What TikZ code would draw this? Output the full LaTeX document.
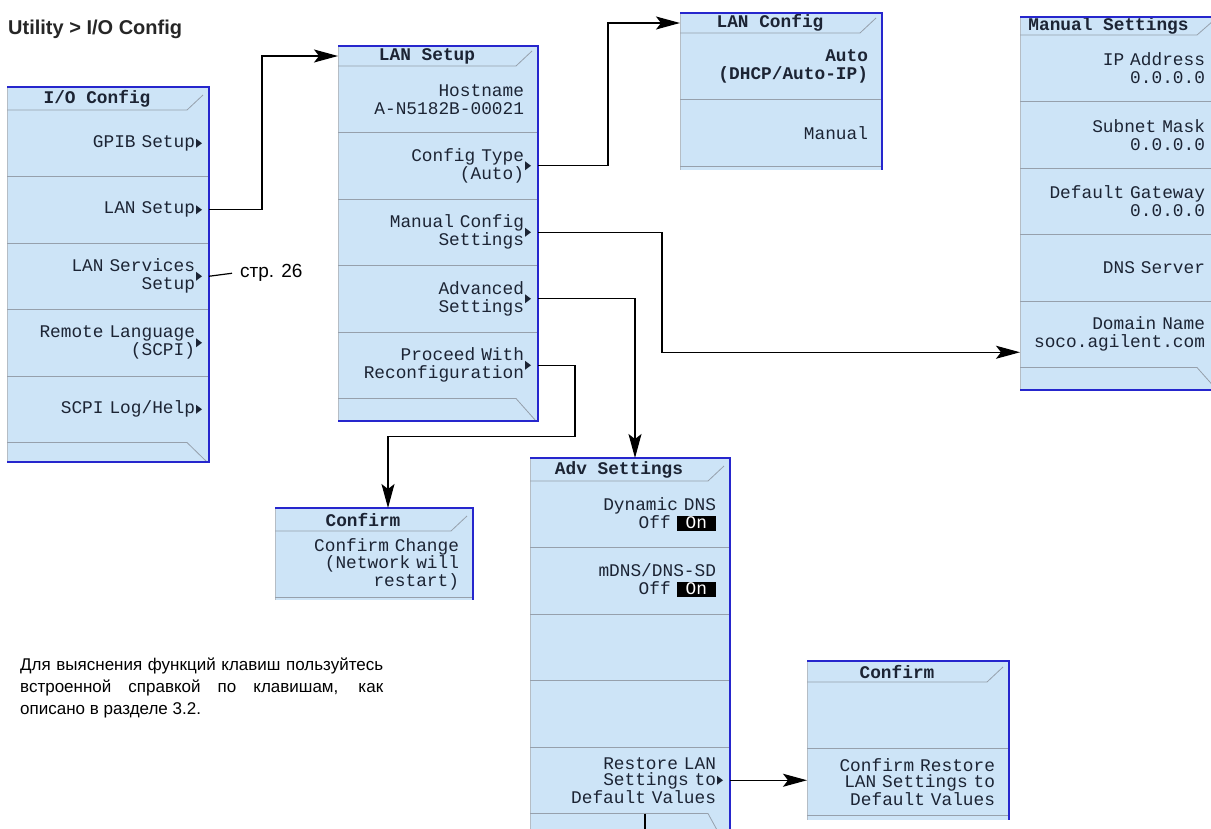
\documentclass[tikz,border=0pt]{standalone}
\usepackage{fontspec}
\setmainfont{Liberation Sans}
\newfontfamily\keyfont{Liberation Mono}
\usetikzlibrary{positioning,arrows.meta}

\definecolor{keyfill}{RGB}{205,228,247}
\definecolor{keyrim}{RGB}{38,38,205}
\definecolor{keysep}{RGB}{150,160,172}
\definecolor{keytext}{RGB}{28,36,52}

\newcommand{\kf}{\keyfont\fontsize{17.8pt}{18pt}\selectfont}
\newcommand{\kft}{\keyfont\fontsize{17.8pt}{15.5pt}\selectfont}
\newcommand{\kfm}{\keyfont\fontsize{17.8pt}{16.5pt}\selectfont}
\newcommand{\onkey}{{\setlength{\fboxsep}{1pt}\colorbox{black}{\rule[-1.5pt]{0pt}{13pt}\textcolor{white}{\hspace{8pt}On\hspace{8pt}}}}}

\tikzset{
  rim/.style={draw=keyrim, line width=2.5pt},
  rowline/.style={draw=keysep, line width=0.8pt},
  edgeline/.style={draw=keysep!70, line width=0.8pt},
  keytitle/.style 2 args={anchor=north west, inner sep=0pt, outer sep=0pt, minimum width=#1, minimum height=#2, font=\kf\bfseries, text=keytext},
  softkey/.style={rectangle, text width=#1, inner xsep=14pt, inner ysep=0pt, outer sep=0pt, minimum height=66.5pt, align=right, font=\kf, text=keytext},
  sub/.style={path picture={\fill[keytext] ([xshift=-13pt,yshift=4.5pt]path picture bounding box.east) -- ++(6pt,-4.5pt) -- ++(-6pt,-4.5pt) -- cycle;}},
  conn/.style={draw=black, line width=1.2pt, -{Stealth[length=24pt, width=13pt, inset=5pt]}},
  wire/.style={draw=black, line width=1.2pt},
}

\begin{document}
\begin{tikzpicture}[x=1pt, y=-1pt]
\useasboundingbox (0,0) rectangle (1211,828);

\node[anchor=base west, inner sep=0pt, font=\fontsize{20pt}{24pt}\selectfont\bfseries, text=black!85] (head) at (8,34) {Utility > I/O Config};

% I/O Config
\fill[keyfill] (7,87) rectangle (209,462);
\draw[edgeline] (7,87) -- (7,462);
\node[keytitle={180pt}{23pt}] (ioT) at (7,87) {I/O Config};
\node[softkey=174pt, sub, anchor=north west] (ioGpib) at (ioT.south west) {GPIB Setup};
\node[softkey=174pt, sub, below=0pt of ioGpib] (ioLan) {LAN Setup};
\node[softkey=174pt, sub, below=0pt of ioLan] (ioSvc) {LAN Services\\Setup};
\node[softkey=174pt, sub, below=0pt of ioSvc] (ioLang) {Remote Language\\(SCPI)};
\node[softkey=174pt, sub, below=0pt of ioLang] (ioLog) {SCPI Log/Help};
\foreach \k in {ioGpib,ioLan,ioSvc,ioLang} \draw[rowline] (\k.south west) -- (\k.south east);
\draw[rowline] (ioT.south west) -- (ioT.south east) -- ++(16,-15);
\draw[rowline] (ioLog.south west) -- ([xshift=-22pt]ioLog.south east) -- (207,462);
\draw[rim] (7,87) -- (209,87) -- (209,462) -- (7,462);

% LAN Setup
\fill[keyfill] (338,46) rectangle (538,421);
\draw[edgeline] (338,46) -- (338,421);
\node[keytitle={178pt}{20pt}] (lanT) at (338,46) {LAN Setup};
\node[softkey=172pt, anchor=north west] (lanHost) at (lanT.south west) {Hostname\\A-N5182B-00021};
\node[softkey=172pt, sub, below=0pt of lanHost] (lanCfg) {Config Type\\(Auto)};
\node[softkey=172pt, sub, below=0pt of lanCfg] (lanMan) {Manual Config\\Settings};
\node[softkey=172pt, sub, below=0pt of lanMan] (lanAdv) {Advanced\\Settings};
\node[softkey=172pt, sub, below=0pt of lanAdv] (lanGo) {Proceed With\\Reconfiguration};
\foreach \k in {lanHost,lanCfg,lanMan,lanAdv} \draw[rowline] (\k.south west) -- (\k.south east);
\draw[rowline] (lanT.south west) -- (lanT.south east) -- ++(16,-15);
\draw[rowline] (lanGo.south west) -- ([xshift=-22pt]lanGo.south east) -- (536,421);
\draw[rim] (338,46) -- (538,46) -- (538,421) -- (338,421);

% LAN Config
\fill[keyfill] (680,13) rectangle (882,170);
\draw[edgeline] (680,13) -- (680,170);
\node[keytitle={180pt}{20pt}] (cfgT) at (680,13) {LAN Config};
\node[softkey=174pt, anchor=north west] (cfgAuto) at (cfgT.south west) {\textbf{Auto}\\\textbf{(DHCP/Auto-IP)}};
\node[softkey=174pt, below=0pt of cfgAuto] (cfgMan) {Manual};
\foreach \k in {cfgAuto,cfgMan} \draw[rowline] (\k.south west) -- (\k.south east);
\draw[rowline] (cfgT.south west) -- (cfgT.south east) -- ++(16,-15);
\draw[rim] (680,13) -- (882,13) -- (882,170);

% Manual Settings
\fill[keyfill] (1020,17) rectangle (1219,390);
\draw[edgeline] (1020,17) -- (1020,390);
\node[keytitle={177pt}{18pt}] (manT) at (1020,17) {Manual Settings};
\node[softkey=171pt, anchor=north west] (manIp) at (manT.south west) {IP Address\\0.0.0.0};
\node[softkey=171pt, below=0pt of manIp] (manMask) {Subnet Mask\\0.0.0.0};
\node[softkey=171pt, below=0pt of manMask] (manGw) {Default Gateway\\0.0.0.0};
\node[softkey=171pt, below=0pt of manGw] (manDns) {DNS Server};
\node[softkey=171pt, below=0pt of manDns] (manDom) {Domain Name\\soco.agilent.com};
\foreach \k in {manIp,manMask,manGw,manDns} \draw[rowline] (\k.south west) -- (\k.south east);
\draw[rowline] (manT.south west) -- (manT.south east) -- ++(16,-14);
\draw[rowline] (manDom.south west) -- ([xshift=-22pt]manDom.south east) -- (1217,390);
\draw[rim] (1020,17) -- (1219,17) -- (1219,390) -- (1020,390);

% Confirm (network)
\fill[keyfill] (275,508) rectangle (473,600);
\draw[edgeline] (275,508) -- (275,600);
\node[keytitle={176pt}{23pt}] (cf1T) at (275,508) {Confirm};
\node[softkey=170pt, font=\kft, anchor=north west] (cf1Msg) at (cf1T.south west) {Confirm Change\\(Network will\\restart)};
\draw[rowline] (cf1Msg.south west) -- (cf1Msg.south east);
\draw[rowline] (cf1T.south west) -- (cf1T.south east) -- ++(16,-15);
\draw[rim] (275,508) -- (473,508) -- (473,600);

% Adv Settings
\fill[keyfill] (530,458) rectangle (730,850);
\draw[edgeline] (530,458) -- (530,850);
\node[keytitle={178pt}{23pt}] (advT) at (530,458) {Adv Settings};
\node[softkey=172pt, anchor=north west] (advDyn) at (advT.south west) {Dynamic DNS\\Off \onkey};
\node[softkey=172pt, below=0pt of advDyn] (advMdns) {mDNS/DNS-SD\\Off \onkey};
\node[softkey=172pt, below=0pt of advMdns] (advE1) {};
\node[softkey=172pt, below=0pt of advE1] (advE2) {};
\node[softkey=172pt, font=\kfm, sub, below=0pt of advE2] (advRst) {Restore LAN\\Settings to\\Default Values};
\foreach \k in {advDyn,advMdns,advE1,advE2} \draw[rowline] (\k.south west) -- (\k.south east);
\draw[rowline] (advT.south west) -- (advT.south east) -- ++(16,-15);
\draw[rowline] (advRst.south west) -- ([xshift=-22pt]advRst.south east) -- (728,850);
\draw[rim] (530,458) -- (730,458) -- (730,850);
\coordinate (advOut) at (645,840);

% Confirm (restore)
\fill[keyfill] (807,661) rectangle (1009,820);
\draw[edgeline] (807,661) -- (807,820);
\node[keytitle={180pt}{21pt}] (cf2T) at (807,661) {Confirm};
\node[softkey=174pt, anchor=north west] (cf2E) at (cf2T.south west) {};
\node[softkey=174pt, font=\kfm, below=0pt of cf2E] (cf2Msg) {Confirm Restore\\LAN Settings to\\Default Values};
\foreach \k in {cf2E,cf2Msg} \draw[rowline] (\k.south west) -- (\k.south east);
\draw[rowline] (cf2T.south west) -- (cf2T.south east) -- ++(16,-15);
\draw[rim] (807,661) -- (1009,661) -- (1009,820);

\node[anchor=west, inner xsep=8pt, font=\fontsize{19pt}{22pt}\selectfont] (pg) at ([xshift=23pt,yshift=3pt]ioSvc.east) {стр. 26};

\node[anchor=north west, inner sep=0pt, text width=363pt, align=justify, font=\fontsize{17pt}{22pt}\selectfont] (note) at (20,658) {Для выяснения функций клавиш пользуйтесь\linebreak встроенной справкой по клавишам, как\linebreak описано в разделе 3.2.};

% connectors
\draw[conn] (ioLan.east) -- ++(53,0) |- (lanT.west);
\draw[wire] (ioSvc.east) -- (pg.west);
\draw[conn] (lanCfg.east) -- ++(70,0) |- (cfgT.west);
\draw[conn] (lanMan.east) -- ++(124,0) |- ([yshift=-18pt]manDom.west);
\draw[conn] (lanAdv.east) -| ([xshift=16pt]advT.north);
\draw[conn] (lanGo.east) -- ++(37,0) -- ++(0,71) -| ([xshift=25pt]cf1T.north);
\draw[conn] (advRst.east) -- (advRst.east -| cf2Msg.west);
\draw[wire] ([xshift=15pt]advRst.south) -- (advOut);
\end{tikzpicture}
\end{document}
